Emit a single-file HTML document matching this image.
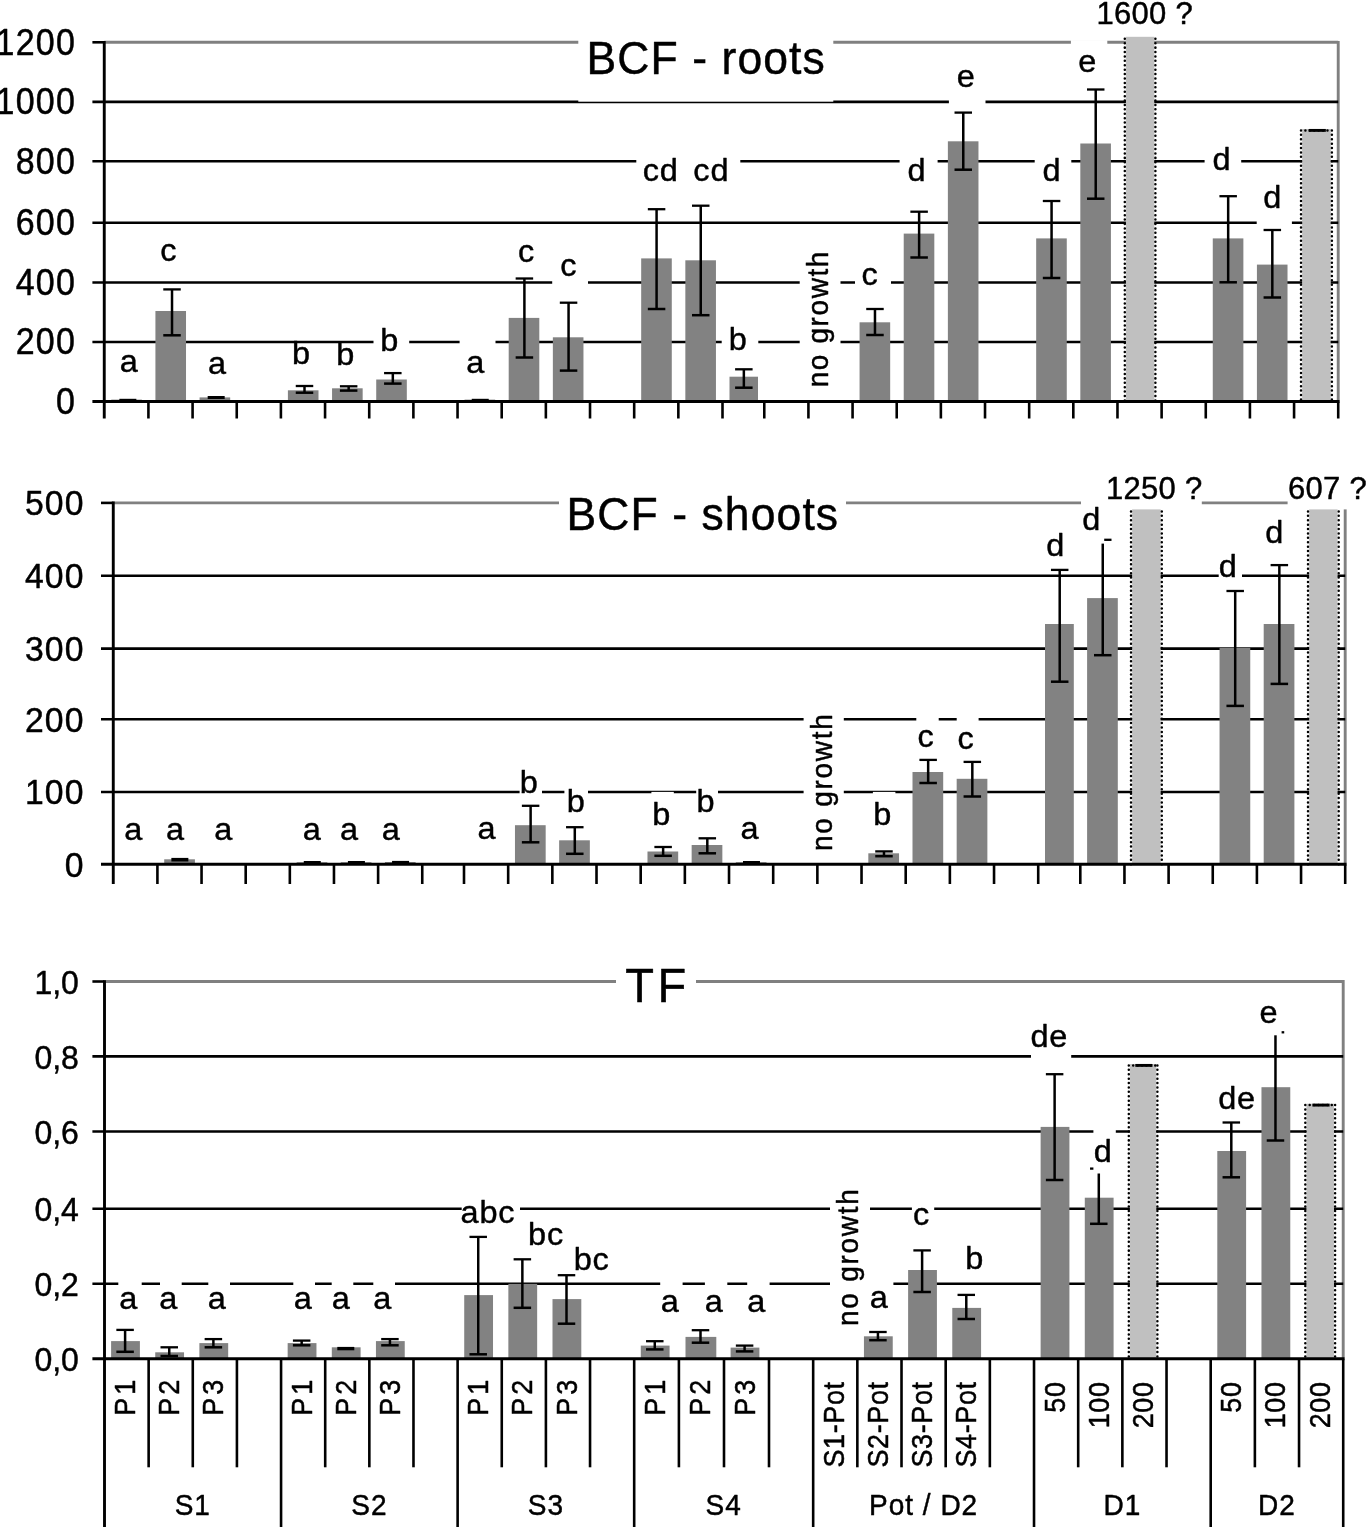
<!DOCTYPE html>
<html lang="en"><head><meta charset="utf-8"><title>BCF roots, BCF shoots, TF</title>
<style>html,body{margin:0;padding:0;background:#fff}svg{display:block;filter:blur(0.5px)}</style></head>
<body>
<svg width="1367" height="1528" viewBox="0 0 1367 1528" font-family="'Liberation Sans', Arial, Helvetica, sans-serif" fill="#000" stroke="#000" stroke-width="0.45" stroke-linejoin="round">
<rect x="0.00" y="0.00" width="1367.00" height="1528.00" fill="#fff" stroke="none"/>
<line x1="104.26" y1="42.30" x2="1338.22" y2="42.30" stroke="#808080" stroke-width="2.9" />
<line x1="1338.22" y1="40.90" x2="1338.22" y2="401.50" stroke="#808080" stroke-width="2.9" />
<line x1="92.40" y1="101.90" x2="1338.22" y2="101.90" stroke="#000" stroke-width="2.6" />
<line x1="92.40" y1="161.20" x2="1338.22" y2="161.20" stroke="#000" stroke-width="2.6" />
<line x1="92.40" y1="222.70" x2="1338.22" y2="222.70" stroke="#000" stroke-width="2.6" />
<line x1="92.40" y1="282.50" x2="1338.22" y2="282.50" stroke="#000" stroke-width="2.6" />
<line x1="92.40" y1="342.00" x2="1338.22" y2="342.00" stroke="#000" stroke-width="2.6" />
<line x1="92.40" y1="42.30" x2="104.26" y2="42.30" stroke="#000" stroke-width="2.6" />
<rect x="111.26" y="399.60" width="30.60" height="1.90" fill="#828282" stroke="none"/>
<rect x="155.42" y="311.00" width="30.60" height="90.50" fill="#828282" stroke="none"/>
<rect x="199.58" y="397.40" width="30.60" height="4.10" fill="#828282" stroke="none"/>
<rect x="287.90" y="390.30" width="30.60" height="11.20" fill="#828282" stroke="none"/>
<rect x="332.06" y="388.30" width="30.60" height="13.20" fill="#828282" stroke="none"/>
<rect x="376.22" y="379.50" width="30.60" height="22.00" fill="#828282" stroke="none"/>
<rect x="464.54" y="399.60" width="30.60" height="1.90" fill="#828282" stroke="none"/>
<rect x="508.70" y="317.90" width="30.60" height="83.60" fill="#828282" stroke="none"/>
<rect x="552.86" y="337.30" width="30.60" height="64.20" fill="#828282" stroke="none"/>
<rect x="641.18" y="258.40" width="30.60" height="143.10" fill="#828282" stroke="none"/>
<rect x="685.34" y="260.30" width="30.60" height="141.20" fill="#828282" stroke="none"/>
<rect x="729.50" y="376.70" width="28.50" height="24.80" fill="#828282" stroke="none"/>
<rect x="859.57" y="322.30" width="30.60" height="79.20" fill="#828282" stroke="none"/>
<rect x="903.72" y="233.60" width="30.60" height="167.90" fill="#828282" stroke="none"/>
<rect x="947.87" y="141.30" width="30.60" height="260.20" fill="#828282" stroke="none"/>
<rect x="1036.17" y="238.40" width="30.60" height="163.10" fill="#828282" stroke="none"/>
<rect x="1080.32" y="143.50" width="30.60" height="258.00" fill="#828282" stroke="none"/>
<rect x="1212.77" y="238.40" width="30.60" height="163.10" fill="#828282" stroke="none"/>
<rect x="1256.92" y="264.60" width="30.60" height="136.90" fill="#828282" stroke="none"/>
<rect x="1125.90" y="36.80" width="28.40" height="364.70" fill="#c0c0c0" stroke="none"/>
<line x1="1124.80" y1="38.80" x2="1124.80" y2="401.50" stroke="#000" stroke-width="2.5" stroke-dasharray="0.01 4.4" stroke-linecap="round"/>
<line x1="1155.40" y1="38.80" x2="1155.40" y2="401.50" stroke="#000" stroke-width="2.5" stroke-dasharray="0.01 4.4" stroke-linecap="round"/>
<rect x="1302.10" y="129.00" width="28.70" height="272.50" fill="#c0c0c0" stroke="none"/>
<line x1="1301.00" y1="130.40" x2="1301.00" y2="401.50" stroke="#000" stroke-width="2.5" stroke-dasharray="0.01 4.4" stroke-linecap="round"/>
<line x1="1331.90" y1="130.40" x2="1331.90" y2="401.50" stroke="#000" stroke-width="2.5" stroke-dasharray="0.01 4.4" stroke-linecap="round"/>
<line x1="1305.40" y1="130.40" x2="1329.90" y2="130.40" stroke="#000" stroke-width="2.5" stroke-dasharray="0.01 4.4" stroke-linecap="round"/>
<line x1="1308.65" y1="130.40" x2="1325.85" y2="130.40" stroke="#000" stroke-width="2.9" />
<line x1="92.40" y1="401.50" x2="1339.52" y2="401.50" stroke="#000" stroke-width="2.9" />
<line x1="104.26" y1="41.00" x2="104.26" y2="418.50" stroke="#000" stroke-width="2.9" />
<line x1="148.42" y1="401.50" x2="148.42" y2="418.50" stroke="#000" stroke-width="2.6" />
<line x1="192.58" y1="401.50" x2="192.58" y2="418.50" stroke="#000" stroke-width="2.6" />
<line x1="236.74" y1="401.50" x2="236.74" y2="418.50" stroke="#000" stroke-width="2.6" />
<line x1="280.90" y1="401.50" x2="280.90" y2="418.50" stroke="#000" stroke-width="2.6" />
<line x1="325.06" y1="401.50" x2="325.06" y2="418.50" stroke="#000" stroke-width="2.6" />
<line x1="369.22" y1="401.50" x2="369.22" y2="418.50" stroke="#000" stroke-width="2.6" />
<line x1="413.38" y1="401.50" x2="413.38" y2="418.50" stroke="#000" stroke-width="2.6" />
<line x1="457.54" y1="401.50" x2="457.54" y2="418.50" stroke="#000" stroke-width="2.6" />
<line x1="501.70" y1="401.50" x2="501.70" y2="418.50" stroke="#000" stroke-width="2.6" />
<line x1="545.86" y1="401.50" x2="545.86" y2="418.50" stroke="#000" stroke-width="2.6" />
<line x1="590.02" y1="401.50" x2="590.02" y2="418.50" stroke="#000" stroke-width="2.6" />
<line x1="634.18" y1="401.50" x2="634.18" y2="418.50" stroke="#000" stroke-width="2.6" />
<line x1="678.34" y1="401.50" x2="678.34" y2="418.50" stroke="#000" stroke-width="2.6" />
<line x1="722.50" y1="401.50" x2="722.50" y2="418.50" stroke="#000" stroke-width="2.6" />
<line x1="764.27" y1="401.50" x2="764.27" y2="418.50" stroke="#000" stroke-width="2.6" />
<line x1="808.42" y1="401.50" x2="808.42" y2="418.50" stroke="#000" stroke-width="2.6" />
<line x1="852.57" y1="401.50" x2="852.57" y2="418.50" stroke="#000" stroke-width="2.6" />
<line x1="896.72" y1="401.50" x2="896.72" y2="418.50" stroke="#000" stroke-width="2.6" />
<line x1="940.87" y1="401.50" x2="940.87" y2="418.50" stroke="#000" stroke-width="2.6" />
<line x1="985.02" y1="401.50" x2="985.02" y2="418.50" stroke="#000" stroke-width="2.6" />
<line x1="1029.17" y1="401.50" x2="1029.17" y2="418.50" stroke="#000" stroke-width="2.6" />
<line x1="1073.32" y1="401.50" x2="1073.32" y2="418.50" stroke="#000" stroke-width="2.6" />
<line x1="1117.47" y1="401.50" x2="1117.47" y2="418.50" stroke="#000" stroke-width="2.6" />
<line x1="1161.62" y1="401.50" x2="1161.62" y2="418.50" stroke="#000" stroke-width="2.6" />
<line x1="1205.77" y1="401.50" x2="1205.77" y2="418.50" stroke="#000" stroke-width="2.6" />
<line x1="1249.92" y1="401.50" x2="1249.92" y2="418.50" stroke="#000" stroke-width="2.6" />
<line x1="1294.07" y1="401.50" x2="1294.07" y2="418.50" stroke="#000" stroke-width="2.6" />
<line x1="1338.22" y1="401.50" x2="1338.22" y2="418.50" stroke="#000" stroke-width="2.6" />
<line x1="119.36" y1="399.90" x2="136.36" y2="399.90" stroke="#000" stroke-width="2.2" />
<line x1="172.02" y1="289.40" x2="172.02" y2="335.30" stroke="#000" stroke-width="2.5" />
<line x1="163.27" y1="289.40" x2="180.77" y2="289.40" stroke="#000" stroke-width="2.3" />
<line x1="163.27" y1="335.30" x2="180.77" y2="335.30" stroke="#000" stroke-width="2.5" />
<line x1="207.68" y1="397.50" x2="224.68" y2="397.50" stroke="#000" stroke-width="3.0" />
<line x1="304.50" y1="386.00" x2="304.50" y2="392.70" stroke="#000" stroke-width="2.5" />
<line x1="295.75" y1="386.00" x2="313.25" y2="386.00" stroke="#000" stroke-width="2.3" />
<line x1="295.75" y1="392.70" x2="313.25" y2="392.70" stroke="#000" stroke-width="2.5" />
<line x1="348.66" y1="386.30" x2="348.66" y2="390.60" stroke="#000" stroke-width="2.5" />
<line x1="339.91" y1="386.30" x2="357.41" y2="386.30" stroke="#000" stroke-width="2.3" />
<line x1="339.91" y1="390.60" x2="357.41" y2="390.60" stroke="#000" stroke-width="2.5" />
<line x1="392.82" y1="373.10" x2="392.82" y2="383.60" stroke="#000" stroke-width="2.5" />
<line x1="384.07" y1="373.10" x2="401.57" y2="373.10" stroke="#000" stroke-width="2.3" />
<line x1="384.07" y1="383.60" x2="401.57" y2="383.60" stroke="#000" stroke-width="2.5" />
<line x1="471.74" y1="399.90" x2="488.74" y2="399.90" stroke="#000" stroke-width="2.2" />
<line x1="524.40" y1="278.50" x2="524.40" y2="357.50" stroke="#000" stroke-width="2.5" />
<line x1="515.65" y1="278.50" x2="533.15" y2="278.50" stroke="#000" stroke-width="2.3" />
<line x1="515.65" y1="357.50" x2="533.15" y2="357.50" stroke="#000" stroke-width="2.5" />
<line x1="568.56" y1="302.70" x2="568.56" y2="370.60" stroke="#000" stroke-width="2.5" />
<line x1="559.81" y1="302.70" x2="577.31" y2="302.70" stroke="#000" stroke-width="2.3" />
<line x1="559.81" y1="370.60" x2="577.31" y2="370.60" stroke="#000" stroke-width="2.5" />
<line x1="656.58" y1="209.20" x2="656.58" y2="309.00" stroke="#000" stroke-width="2.5" />
<line x1="647.83" y1="209.20" x2="665.33" y2="209.20" stroke="#000" stroke-width="2.3" />
<line x1="647.83" y1="309.00" x2="665.33" y2="309.00" stroke="#000" stroke-width="2.5" />
<line x1="700.74" y1="205.70" x2="700.74" y2="315.20" stroke="#000" stroke-width="2.5" />
<line x1="691.99" y1="205.70" x2="709.49" y2="205.70" stroke="#000" stroke-width="2.3" />
<line x1="691.99" y1="315.20" x2="709.49" y2="315.20" stroke="#000" stroke-width="2.5" />
<line x1="743.85" y1="369.30" x2="743.85" y2="387.70" stroke="#000" stroke-width="2.5" />
<line x1="735.10" y1="369.30" x2="752.60" y2="369.30" stroke="#000" stroke-width="2.3" />
<line x1="735.10" y1="387.70" x2="752.60" y2="387.70" stroke="#000" stroke-width="2.5" />
<line x1="874.97" y1="309.00" x2="874.97" y2="335.00" stroke="#000" stroke-width="2.5" />
<line x1="866.22" y1="309.00" x2="883.72" y2="309.00" stroke="#000" stroke-width="2.3" />
<line x1="866.22" y1="335.00" x2="883.72" y2="335.00" stroke="#000" stroke-width="2.5" />
<line x1="919.12" y1="211.70" x2="919.12" y2="257.50" stroke="#000" stroke-width="2.5" />
<line x1="910.37" y1="211.70" x2="927.87" y2="211.70" stroke="#000" stroke-width="2.3" />
<line x1="910.37" y1="257.50" x2="927.87" y2="257.50" stroke="#000" stroke-width="2.5" />
<line x1="963.27" y1="112.60" x2="963.27" y2="169.70" stroke="#000" stroke-width="2.5" />
<line x1="954.52" y1="112.60" x2="972.02" y2="112.60" stroke="#000" stroke-width="2.3" />
<line x1="954.52" y1="169.70" x2="972.02" y2="169.70" stroke="#000" stroke-width="2.5" />
<line x1="1051.57" y1="201.00" x2="1051.57" y2="278.00" stroke="#000" stroke-width="2.5" />
<line x1="1042.82" y1="201.00" x2="1060.32" y2="201.00" stroke="#000" stroke-width="2.3" />
<line x1="1042.82" y1="278.00" x2="1060.32" y2="278.00" stroke="#000" stroke-width="2.5" />
<line x1="1095.72" y1="89.50" x2="1095.72" y2="198.70" stroke="#000" stroke-width="2.5" />
<line x1="1086.97" y1="89.50" x2="1104.47" y2="89.50" stroke="#000" stroke-width="2.3" />
<line x1="1086.97" y1="198.70" x2="1104.47" y2="198.70" stroke="#000" stroke-width="2.5" />
<line x1="1228.17" y1="196.20" x2="1228.17" y2="282.30" stroke="#000" stroke-width="2.5" />
<line x1="1219.42" y1="196.20" x2="1236.92" y2="196.20" stroke="#000" stroke-width="2.3" />
<line x1="1219.42" y1="282.30" x2="1236.92" y2="282.30" stroke="#000" stroke-width="2.5" />
<line x1="1272.32" y1="230.00" x2="1272.32" y2="297.50" stroke="#000" stroke-width="2.5" />
<line x1="1263.57" y1="230.00" x2="1281.07" y2="230.00" stroke="#000" stroke-width="2.3" />
<line x1="1263.57" y1="297.50" x2="1281.07" y2="297.50" stroke="#000" stroke-width="2.5" />
<rect x="578.30" y="28.00" width="255.00" height="73.70" fill="#fff" stroke="none"/>
<rect x="636.30" y="159.00" width="104.00" height="4.40" fill="#fff" stroke="none"/>
<rect x="552.20" y="280.30" width="35.80" height="4.40" fill="#fff" stroke="none"/>
<rect x="799.70" y="280.30" width="40.80" height="4.40" fill="#fff" stroke="none"/>
<rect x="855.00" y="280.30" width="36.00" height="4.40" fill="#fff" stroke="none"/>
<rect x="373.50" y="339.80" width="35.70" height="4.40" fill="#fff" stroke="none"/>
<rect x="459.60" y="339.80" width="35.90" height="4.40" fill="#fff" stroke="none"/>
<rect x="721.70" y="339.80" width="36.60" height="4.40" fill="#fff" stroke="none"/>
<rect x="799.70" y="339.80" width="40.80" height="4.40" fill="#fff" stroke="none"/>
<rect x="948.90" y="99.70" width="36.60" height="4.40" fill="#fff" stroke="none"/>
<rect x="899.60" y="159.00" width="38.00" height="4.40" fill="#fff" stroke="none"/>
<rect x="1034.70" y="159.00" width="36.60" height="4.40" fill="#fff" stroke="none"/>
<rect x="1204.60" y="159.00" width="36.60" height="4.40" fill="#fff" stroke="none"/>
<rect x="1256.70" y="220.50" width="35.20" height="4.40" fill="#fff" stroke="none"/>
<rect x="1070.90" y="40.10" width="36.40" height="4.40" fill="#fff" stroke="none"/>
<text transform="translate(76.00,54.60) scale(1.0,1.065)" font-size="34" text-anchor="end" letter-spacing="1.2">1200</text>
<text transform="translate(76.00,114.20) scale(1.0,1.065)" font-size="34" text-anchor="end" letter-spacing="1.2">1000</text>
<text transform="translate(76.00,173.50) scale(1.0,1.065)" font-size="34" text-anchor="end" letter-spacing="1.2">800</text>
<text transform="translate(76.00,235.00) scale(1.0,1.065)" font-size="34" text-anchor="end" letter-spacing="1.2">600</text>
<text transform="translate(76.00,294.80) scale(1.0,1.065)" font-size="34" text-anchor="end" letter-spacing="1.2">400</text>
<text transform="translate(76.00,354.30) scale(1.0,1.065)" font-size="34" text-anchor="end" letter-spacing="1.2">200</text>
<text transform="translate(76.00,413.80) scale(1.0,1.065)" font-size="34" text-anchor="end" letter-spacing="1.2">0</text>
<text transform="translate(128.90,371.70) scale(1.0,0.98)" font-size="32.5" text-anchor="middle">a</text>
<text transform="translate(168.40,261.30) scale(1.0,0.98)" font-size="32.5" text-anchor="middle">c</text>
<text transform="translate(217.00,373.70) scale(1.0,0.98)" font-size="32.5" text-anchor="middle">a</text>
<text transform="translate(301.00,363.70) scale(1.0,0.98)" font-size="32.5" text-anchor="middle">b</text>
<text transform="translate(345.40,364.90) scale(1.0,0.98)" font-size="32.5" text-anchor="middle">b</text>
<text transform="translate(389.30,351.10) scale(1.0,0.98)" font-size="32.5" text-anchor="middle">b</text>
<text transform="translate(475.20,373.20) scale(1.0,0.98)" font-size="32.5" text-anchor="middle">a</text>
<text transform="translate(526.20,261.50) scale(1.0,0.98)" font-size="32.5" text-anchor="middle">c</text>
<text transform="translate(568.40,276.20) scale(1.0,0.98)" font-size="32.5" text-anchor="middle">c</text>
<text transform="translate(660.70,181.40) scale(1.0,0.98)" font-size="32.5" text-anchor="middle" letter-spacing="0.8">cd</text>
<text transform="translate(711.30,181.40) scale(1.0,0.98)" font-size="32.5" text-anchor="middle" letter-spacing="0.8">cd</text>
<text transform="translate(737.80,349.70) scale(1.0,0.98)" font-size="32.5" text-anchor="middle">b</text>
<text transform="translate(869.70,284.70) scale(1.0,0.98)" font-size="32.5" text-anchor="middle">c</text>
<text transform="translate(916.50,181.20) scale(1.0,0.98)" font-size="32.5" text-anchor="middle">d</text>
<text transform="translate(965.70,87.00) scale(1.0,0.98)" font-size="32.5" text-anchor="middle">e</text>
<text transform="translate(1051.60,181.20) scale(1.0,0.98)" font-size="32.5" text-anchor="middle">d</text>
<text transform="translate(1087.20,71.50) scale(1.0,0.98)" font-size="32.5" text-anchor="middle">e</text>
<text transform="translate(1221.50,170.00) scale(1.0,0.98)" font-size="32.5" text-anchor="middle">d</text>
<text transform="translate(1272.20,208.00) scale(1.0,0.98)" font-size="32.5" text-anchor="middle">d</text>
<text transform="translate(586.40,74.00) scale(1.0,1.02)" font-size="44.5" letter-spacing="1.1">BCF - roots</text>
<text transform="translate(1096.50,23.60)" font-size="31" letter-spacing="0.3">1600 ?</text>
<text transform="translate(828.00,387.30) rotate(-90) scale(1.0,1.08)" font-size="28" letter-spacing="1.6">no growth</text>
<line x1="113.27" y1="502.90" x2="1345.20" y2="502.90" stroke="#808080" stroke-width="2.9" />
<line x1="1345.20" y1="501.50" x2="1345.20" y2="864.30" stroke="#808080" stroke-width="2.9" />
<line x1="101.00" y1="575.80" x2="1345.20" y2="575.80" stroke="#000" stroke-width="2.6" />
<line x1="101.00" y1="648.60" x2="1345.20" y2="648.60" stroke="#000" stroke-width="2.6" />
<line x1="101.00" y1="719.30" x2="1345.20" y2="719.30" stroke="#000" stroke-width="2.6" />
<line x1="101.00" y1="792.00" x2="1345.20" y2="792.00" stroke="#000" stroke-width="2.6" />
<line x1="101.00" y1="502.90" x2="113.27" y2="502.90" stroke="#000" stroke-width="2.6" />
<rect x="120.07" y="863.20" width="30.70" height="1.10" fill="#828282" stroke="none"/>
<rect x="164.21" y="859.30" width="30.70" height="5.00" fill="#828282" stroke="none"/>
<rect x="208.35" y="863.20" width="30.70" height="1.10" fill="#828282" stroke="none"/>
<rect x="296.63" y="862.20" width="30.70" height="2.10" fill="#828282" stroke="none"/>
<rect x="340.77" y="862.20" width="30.70" height="2.10" fill="#828282" stroke="none"/>
<rect x="384.91" y="862.00" width="30.70" height="2.30" fill="#828282" stroke="none"/>
<rect x="470.80" y="863.20" width="30.70" height="1.10" fill="#828282" stroke="none"/>
<rect x="514.97" y="825.20" width="30.70" height="39.10" fill="#828282" stroke="none"/>
<rect x="559.14" y="840.30" width="30.70" height="24.00" fill="#828282" stroke="none"/>
<rect x="647.48" y="851.50" width="30.70" height="12.80" fill="#828282" stroke="none"/>
<rect x="691.65" y="845.00" width="30.70" height="19.30" fill="#828282" stroke="none"/>
<rect x="735.82" y="862.20" width="30.70" height="2.10" fill="#828282" stroke="none"/>
<rect x="868.33" y="853.30" width="30.70" height="11.00" fill="#828282" stroke="none"/>
<rect x="912.50" y="772.00" width="30.70" height="92.30" fill="#828282" stroke="none"/>
<rect x="956.67" y="778.80" width="30.70" height="85.50" fill="#828282" stroke="none"/>
<rect x="1045.01" y="624.00" width="28.80" height="240.30" fill="#828282" stroke="none"/>
<rect x="1087.10" y="598.10" width="30.70" height="266.20" fill="#828282" stroke="none"/>
<rect x="1219.55" y="647.90" width="30.70" height="216.40" fill="#828282" stroke="none"/>
<rect x="1263.70" y="624.00" width="30.70" height="240.30" fill="#828282" stroke="none"/>
<rect x="1132.10" y="509.40" width="28.60" height="354.90" fill="#c0c0c0" stroke="none"/>
<line x1="1131.00" y1="511.40" x2="1131.00" y2="864.30" stroke="#000" stroke-width="2.5" stroke-dasharray="0.01 4.4" stroke-linecap="round"/>
<line x1="1161.80" y1="511.40" x2="1161.80" y2="864.30" stroke="#000" stroke-width="2.5" stroke-dasharray="0.01 4.4" stroke-linecap="round"/>
<rect x="1309.10" y="509.40" width="28.50" height="354.90" fill="#c0c0c0" stroke="none"/>
<line x1="1308.00" y1="511.40" x2="1308.00" y2="864.30" stroke="#000" stroke-width="2.5" stroke-dasharray="0.01 4.4" stroke-linecap="round"/>
<line x1="1338.70" y1="511.40" x2="1338.70" y2="864.30" stroke="#000" stroke-width="2.5" stroke-dasharray="0.01 4.4" stroke-linecap="round"/>
<line x1="101.00" y1="864.30" x2="1346.50" y2="864.30" stroke="#000" stroke-width="2.9" />
<line x1="113.27" y1="501.60" x2="113.27" y2="884.00" stroke="#000" stroke-width="2.9" />
<line x1="157.41" y1="864.30" x2="157.41" y2="884.00" stroke="#000" stroke-width="2.6" />
<line x1="201.55" y1="864.30" x2="201.55" y2="884.00" stroke="#000" stroke-width="2.6" />
<line x1="245.69" y1="864.30" x2="245.69" y2="884.00" stroke="#000" stroke-width="2.6" />
<line x1="289.83" y1="864.30" x2="289.83" y2="884.00" stroke="#000" stroke-width="2.6" />
<line x1="333.97" y1="864.30" x2="333.97" y2="884.00" stroke="#000" stroke-width="2.6" />
<line x1="378.11" y1="864.30" x2="378.11" y2="884.00" stroke="#000" stroke-width="2.6" />
<line x1="422.25" y1="864.30" x2="422.25" y2="884.00" stroke="#000" stroke-width="2.6" />
<line x1="464.00" y1="864.30" x2="464.00" y2="884.00" stroke="#000" stroke-width="2.6" />
<line x1="508.17" y1="864.30" x2="508.17" y2="884.00" stroke="#000" stroke-width="2.6" />
<line x1="552.34" y1="864.30" x2="552.34" y2="884.00" stroke="#000" stroke-width="2.6" />
<line x1="596.51" y1="864.30" x2="596.51" y2="884.00" stroke="#000" stroke-width="2.6" />
<line x1="640.68" y1="864.30" x2="640.68" y2="884.00" stroke="#000" stroke-width="2.6" />
<line x1="684.85" y1="864.30" x2="684.85" y2="884.00" stroke="#000" stroke-width="2.6" />
<line x1="729.02" y1="864.30" x2="729.02" y2="884.00" stroke="#000" stroke-width="2.6" />
<line x1="773.19" y1="864.30" x2="773.19" y2="884.00" stroke="#000" stroke-width="2.6" />
<line x1="817.36" y1="864.30" x2="817.36" y2="884.00" stroke="#000" stroke-width="2.6" />
<line x1="861.53" y1="864.30" x2="861.53" y2="884.00" stroke="#000" stroke-width="2.6" />
<line x1="905.70" y1="864.30" x2="905.70" y2="884.00" stroke="#000" stroke-width="2.6" />
<line x1="949.87" y1="864.30" x2="949.87" y2="884.00" stroke="#000" stroke-width="2.6" />
<line x1="994.04" y1="864.30" x2="994.04" y2="884.00" stroke="#000" stroke-width="2.6" />
<line x1="1038.21" y1="864.30" x2="1038.21" y2="884.00" stroke="#000" stroke-width="2.6" />
<line x1="1080.30" y1="864.30" x2="1080.30" y2="884.00" stroke="#000" stroke-width="2.6" />
<line x1="1124.45" y1="864.30" x2="1124.45" y2="884.00" stroke="#000" stroke-width="2.6" />
<line x1="1168.60" y1="864.30" x2="1168.60" y2="884.00" stroke="#000" stroke-width="2.6" />
<line x1="1212.75" y1="864.30" x2="1212.75" y2="884.00" stroke="#000" stroke-width="2.6" />
<line x1="1256.90" y1="864.30" x2="1256.90" y2="884.00" stroke="#000" stroke-width="2.6" />
<line x1="1301.05" y1="864.30" x2="1301.05" y2="884.00" stroke="#000" stroke-width="2.6" />
<line x1="1345.20" y1="864.30" x2="1345.20" y2="884.00" stroke="#000" stroke-width="2.6" />
<line x1="171.36" y1="859.70" x2="188.36" y2="859.70" stroke="#000" stroke-width="3.6000000000000227" />
<line x1="303.78" y1="862.10" x2="320.78" y2="862.10" stroke="#000" stroke-width="2.2" />
<line x1="347.92" y1="862.10" x2="364.92" y2="862.10" stroke="#000" stroke-width="2.2" />
<line x1="392.06" y1="862.00" x2="409.06" y2="862.00" stroke="#000" stroke-width="2.2" />
<line x1="530.62" y1="805.80" x2="530.62" y2="842.30" stroke="#000" stroke-width="2.5" />
<line x1="521.87" y1="805.80" x2="539.37" y2="805.80" stroke="#000" stroke-width="2.3" />
<line x1="521.87" y1="842.30" x2="539.37" y2="842.30" stroke="#000" stroke-width="2.5" />
<line x1="574.79" y1="827.20" x2="574.79" y2="853.80" stroke="#000" stroke-width="2.5" />
<line x1="566.04" y1="827.20" x2="583.54" y2="827.20" stroke="#000" stroke-width="2.3" />
<line x1="566.04" y1="853.80" x2="583.54" y2="853.80" stroke="#000" stroke-width="2.5" />
<line x1="663.13" y1="847.00" x2="663.13" y2="855.80" stroke="#000" stroke-width="2.5" />
<line x1="654.38" y1="847.00" x2="671.88" y2="847.00" stroke="#000" stroke-width="2.3" />
<line x1="654.38" y1="855.80" x2="671.88" y2="855.80" stroke="#000" stroke-width="2.5" />
<line x1="707.30" y1="838.30" x2="707.30" y2="853.30" stroke="#000" stroke-width="2.5" />
<line x1="698.55" y1="838.30" x2="716.05" y2="838.30" stroke="#000" stroke-width="2.3" />
<line x1="698.55" y1="853.30" x2="716.05" y2="853.30" stroke="#000" stroke-width="2.5" />
<line x1="742.97" y1="862.10" x2="759.97" y2="862.10" stroke="#000" stroke-width="2.2" />
<line x1="883.98" y1="851.40" x2="883.98" y2="856.20" stroke="#000" stroke-width="2.5" />
<line x1="875.23" y1="851.40" x2="892.73" y2="851.40" stroke="#000" stroke-width="2.3" />
<line x1="875.23" y1="856.20" x2="892.73" y2="856.20" stroke="#000" stroke-width="2.5" />
<line x1="928.15" y1="759.90" x2="928.15" y2="783.00" stroke="#000" stroke-width="2.5" />
<line x1="919.40" y1="759.90" x2="936.90" y2="759.90" stroke="#000" stroke-width="2.3" />
<line x1="919.40" y1="783.00" x2="936.90" y2="783.00" stroke="#000" stroke-width="2.5" />
<line x1="972.32" y1="761.90" x2="972.32" y2="796.50" stroke="#000" stroke-width="2.5" />
<line x1="963.57" y1="761.90" x2="981.07" y2="761.90" stroke="#000" stroke-width="2.3" />
<line x1="963.57" y1="796.50" x2="981.07" y2="796.50" stroke="#000" stroke-width="2.5" />
<line x1="1059.71" y1="569.90" x2="1059.71" y2="681.70" stroke="#000" stroke-width="2.5" />
<line x1="1050.96" y1="569.90" x2="1068.46" y2="569.90" stroke="#000" stroke-width="2.3" />
<line x1="1050.96" y1="681.70" x2="1068.46" y2="681.70" stroke="#000" stroke-width="2.5" />
<line x1="1102.75" y1="539.80" x2="1102.75" y2="655.20" stroke="#000" stroke-width="2.5" />
<line x1="1094.00" y1="539.80" x2="1111.50" y2="539.80" stroke="#000" stroke-width="2.3" />
<line x1="1094.00" y1="655.20" x2="1111.50" y2="655.20" stroke="#000" stroke-width="2.5" />
<line x1="1235.20" y1="591.00" x2="1235.20" y2="705.90" stroke="#000" stroke-width="2.5" />
<line x1="1226.45" y1="591.00" x2="1243.95" y2="591.00" stroke="#000" stroke-width="2.3" />
<line x1="1226.45" y1="705.90" x2="1243.95" y2="705.90" stroke="#000" stroke-width="2.5" />
<line x1="1279.35" y1="565.10" x2="1279.35" y2="683.90" stroke="#000" stroke-width="2.5" />
<line x1="1270.60" y1="565.10" x2="1288.10" y2="565.10" stroke="#000" stroke-width="2.3" />
<line x1="1270.60" y1="683.90" x2="1288.10" y2="683.90" stroke="#000" stroke-width="2.5" />
<rect x="559.00" y="485.00" width="287.00" height="55.00" fill="#fff" stroke="none"/>
<rect x="519.60" y="789.80" width="22.40" height="4.40" fill="#fff" stroke="none"/>
<rect x="564.40" y="789.80" width="23.60" height="4.40" fill="#fff" stroke="none"/>
<rect x="696.20" y="789.80" width="21.80" height="4.40" fill="#fff" stroke="none"/>
<rect x="803.60" y="789.80" width="40.20" height="4.40" fill="#fff" stroke="none"/>
<rect x="651.40" y="791.90" width="22.40" height="2.60" fill="#fff" stroke="none"/>
<rect x="872.90" y="791.90" width="22.50" height="2.60" fill="#fff" stroke="none"/>
<rect x="803.60" y="717.10" width="40.20" height="4.40" fill="#fff" stroke="none"/>
<rect x="916.30" y="717.10" width="22.40" height="4.40" fill="#fff" stroke="none"/>
<rect x="956.70" y="717.10" width="21.90" height="4.40" fill="#fff" stroke="none"/>
<rect x="1082.20" y="500.70" width="119.60" height="4.40" fill="#fff" stroke="none"/>
<rect x="1287.60" y="500.70" width="79.40" height="4.40" fill="#fff" stroke="none"/>
<rect x="1340.50" y="470.00" width="26.50" height="39.40" fill="#fff" stroke="none"/>
<rect x="1218.70" y="573.60" width="23.30" height="4.40" fill="#fff" stroke="none"/>
<rect x="1081.00" y="500.00" width="23.20" height="43.60" fill="#fff" stroke="none"/>
<text transform="translate(84.70,515.20) scale(1.0,1.027)" font-size="33.7" text-anchor="end" letter-spacing="1.2">500</text>
<text transform="translate(84.70,588.10) scale(1.0,1.027)" font-size="33.7" text-anchor="end" letter-spacing="1.2">400</text>
<text transform="translate(84.70,660.90) scale(1.0,1.027)" font-size="33.7" text-anchor="end" letter-spacing="1.2">300</text>
<text transform="translate(84.70,731.60) scale(1.0,1.027)" font-size="33.7" text-anchor="end" letter-spacing="1.2">200</text>
<text transform="translate(84.70,804.30) scale(1.0,1.027)" font-size="33.7" text-anchor="end" letter-spacing="1.2">100</text>
<text transform="translate(84.70,876.60) scale(1.0,1.027)" font-size="33.7" text-anchor="end" letter-spacing="1.2">0</text>
<text transform="translate(133.30,839.70) scale(1.0,0.98)" font-size="32.5" text-anchor="middle">a</text>
<text transform="translate(175.00,839.70) scale(1.0,0.98)" font-size="32.5" text-anchor="middle">a</text>
<text transform="translate(223.30,839.70) scale(1.0,0.98)" font-size="32.5" text-anchor="middle">a</text>
<text transform="translate(311.70,839.70) scale(1.0,0.98)" font-size="32.5" text-anchor="middle">a</text>
<text transform="translate(349.00,839.70) scale(1.0,0.98)" font-size="32.5" text-anchor="middle">a</text>
<text transform="translate(390.70,839.70) scale(1.0,0.98)" font-size="32.5" text-anchor="middle">a</text>
<text transform="translate(486.60,839.30) scale(1.0,0.98)" font-size="32.5" text-anchor="middle">a</text>
<text transform="translate(528.90,792.50) scale(1.0,0.98)" font-size="32.5" text-anchor="middle">b</text>
<text transform="translate(575.70,811.90) scale(1.0,0.98)" font-size="32.5" text-anchor="middle">b</text>
<text transform="translate(661.40,824.90) scale(1.0,0.98)" font-size="32.5" text-anchor="middle">b</text>
<text transform="translate(705.50,811.90) scale(1.0,0.98)" font-size="32.5" text-anchor="middle">b</text>
<text transform="translate(749.50,839.30) scale(1.0,0.98)" font-size="32.5" text-anchor="middle">a</text>
<text transform="translate(882.30,824.90) scale(1.0,0.98)" font-size="32.5" text-anchor="middle">b</text>
<text transform="translate(925.70,746.90) scale(1.0,0.98)" font-size="32.5" text-anchor="middle">c</text>
<text transform="translate(965.50,748.90) scale(1.0,0.98)" font-size="32.5" text-anchor="middle">c</text>
<text transform="translate(1055.20,556.40) scale(1.0,0.98)" font-size="32.5" text-anchor="middle">d</text>
<text transform="translate(1091.40,530.20) scale(1.0,0.98)" font-size="32.5" text-anchor="middle">d</text>
<text transform="translate(1227.90,576.70) scale(1.0,0.98)" font-size="32.5" text-anchor="middle">d</text>
<text transform="translate(1274.30,543.40) scale(1.0,0.98)" font-size="32.5" text-anchor="middle">d</text>
<text transform="translate(566.40,530.00) scale(1.0,1.02)" font-size="44.5" letter-spacing="1.1">BCF - shoots</text>
<text transform="translate(1106.00,499.40)" font-size="31" letter-spacing="0.3">1250 ?</text>
<text transform="translate(1288.00,499.40)" font-size="31" letter-spacing="0.3">607 ?</text>
<text transform="translate(831.60,851.00) rotate(-90) scale(1.0,1.08)" font-size="28" letter-spacing="1.75">no growth</text>
<line x1="104.50" y1="981.50" x2="1343.21" y2="981.50" stroke="#808080" stroke-width="2.9" />
<line x1="1343.21" y1="980.10" x2="1343.21" y2="1358.80" stroke="#808080" stroke-width="2.9" />
<line x1="92.40" y1="1056.40" x2="1343.21" y2="1056.40" stroke="#000" stroke-width="2.6" />
<line x1="92.40" y1="1131.50" x2="1343.21" y2="1131.50" stroke="#000" stroke-width="2.6" />
<line x1="92.40" y1="1208.80" x2="1343.21" y2="1208.80" stroke="#000" stroke-width="2.6" />
<line x1="92.40" y1="1283.80" x2="1343.21" y2="1283.80" stroke="#000" stroke-width="2.6" />
<line x1="92.40" y1="981.50" x2="104.50" y2="981.50" stroke="#000" stroke-width="2.6" />
<rect x="111.10" y="1341.10" width="28.80" height="17.70" fill="#828282" stroke="none"/>
<rect x="155.24" y="1352.30" width="28.80" height="6.50" fill="#828282" stroke="none"/>
<rect x="199.38" y="1343.10" width="28.80" height="15.70" fill="#828282" stroke="none"/>
<rect x="287.66" y="1343.10" width="28.80" height="15.70" fill="#828282" stroke="none"/>
<rect x="331.80" y="1347.30" width="28.80" height="11.50" fill="#828282" stroke="none"/>
<rect x="375.94" y="1341.10" width="28.80" height="17.70" fill="#828282" stroke="none"/>
<rect x="464.22" y="1295.10" width="28.80" height="63.70" fill="#828282" stroke="none"/>
<rect x="508.36" y="1283.90" width="28.80" height="74.90" fill="#828282" stroke="none"/>
<rect x="552.50" y="1299.10" width="28.80" height="59.70" fill="#828282" stroke="none"/>
<rect x="640.78" y="1345.60" width="28.80" height="13.20" fill="#828282" stroke="none"/>
<rect x="685.50" y="1336.90" width="30.80" height="21.90" fill="#828282" stroke="none"/>
<rect x="730.60" y="1347.60" width="28.80" height="11.20" fill="#828282" stroke="none"/>
<rect x="863.94" y="1336.30" width="28.80" height="22.50" fill="#828282" stroke="none"/>
<rect x="908.11" y="1270.00" width="28.80" height="88.80" fill="#828282" stroke="none"/>
<rect x="952.28" y="1307.90" width="28.80" height="50.90" fill="#828282" stroke="none"/>
<rect x="1040.62" y="1126.90" width="28.80" height="231.90" fill="#828282" stroke="none"/>
<rect x="1084.79" y="1197.70" width="28.80" height="161.10" fill="#828282" stroke="none"/>
<rect x="1217.30" y="1151.00" width="28.80" height="207.80" fill="#828282" stroke="none"/>
<rect x="1261.47" y="1087.20" width="28.80" height="271.60" fill="#828282" stroke="none"/>
<rect x="1129.90" y="1064.00" width="26.40" height="294.80" fill="#c0c0c0" stroke="none"/>
<line x1="1128.80" y1="1065.40" x2="1128.80" y2="1358.80" stroke="#000" stroke-width="2.5" stroke-dasharray="0.01 4.4" stroke-linecap="round"/>
<line x1="1157.40" y1="1065.40" x2="1157.40" y2="1358.80" stroke="#000" stroke-width="2.5" stroke-dasharray="0.01 4.4" stroke-linecap="round"/>
<line x1="1133.20" y1="1065.40" x2="1155.40" y2="1065.40" stroke="#000" stroke-width="2.5" stroke-dasharray="0.01 4.4" stroke-linecap="round"/>
<line x1="1135.30" y1="1065.40" x2="1152.50" y2="1065.40" stroke="#000" stroke-width="2.9" />
<rect x="1306.40" y="1103.70" width="27.60" height="255.10" fill="#c0c0c0" stroke="none"/>
<line x1="1305.30" y1="1105.10" x2="1305.30" y2="1358.80" stroke="#000" stroke-width="2.5" stroke-dasharray="0.01 4.4" stroke-linecap="round"/>
<line x1="1335.10" y1="1105.10" x2="1335.10" y2="1358.80" stroke="#000" stroke-width="2.5" stroke-dasharray="0.01 4.4" stroke-linecap="round"/>
<line x1="1309.70" y1="1105.10" x2="1333.10" y2="1105.10" stroke="#000" stroke-width="2.5" stroke-dasharray="0.01 4.4" stroke-linecap="round"/>
<line x1="1312.40" y1="1105.10" x2="1329.60" y2="1105.10" stroke="#000" stroke-width="2.9" />
<line x1="92.40" y1="1358.80" x2="1344.51" y2="1358.80" stroke="#000" stroke-width="2.9" />
<line x1="104.50" y1="980.20" x2="104.50" y2="1527.00" stroke="#000" stroke-width="2.9" />
<line x1="125.10" y1="1329.90" x2="125.10" y2="1351.80" stroke="#000" stroke-width="2.5" />
<line x1="116.35" y1="1329.90" x2="133.85" y2="1329.90" stroke="#000" stroke-width="2.3" />
<line x1="116.35" y1="1351.80" x2="133.85" y2="1351.80" stroke="#000" stroke-width="2.5" />
<line x1="169.24" y1="1347.30" x2="169.24" y2="1356.00" stroke="#000" stroke-width="2.5" />
<line x1="160.49" y1="1347.30" x2="177.99" y2="1347.30" stroke="#000" stroke-width="2.3" />
<line x1="160.49" y1="1356.00" x2="177.99" y2="1356.00" stroke="#000" stroke-width="2.5" />
<line x1="213.38" y1="1339.10" x2="213.38" y2="1347.30" stroke="#000" stroke-width="2.5" />
<line x1="204.63" y1="1339.10" x2="222.13" y2="1339.10" stroke="#000" stroke-width="2.3" />
<line x1="204.63" y1="1347.30" x2="222.13" y2="1347.30" stroke="#000" stroke-width="2.5" />
<line x1="301.66" y1="1340.60" x2="301.66" y2="1345.30" stroke="#000" stroke-width="2.5" />
<line x1="292.91" y1="1340.60" x2="310.41" y2="1340.60" stroke="#000" stroke-width="2.3" />
<line x1="292.91" y1="1345.30" x2="310.41" y2="1345.30" stroke="#000" stroke-width="2.5" />
<line x1="337.30" y1="1348.60" x2="354.30" y2="1348.60" stroke="#000" stroke-width="3.3999999999998636" />
<line x1="389.94" y1="1339.10" x2="389.94" y2="1345.30" stroke="#000" stroke-width="2.5" />
<line x1="381.19" y1="1339.10" x2="398.69" y2="1339.10" stroke="#000" stroke-width="2.3" />
<line x1="381.19" y1="1345.30" x2="398.69" y2="1345.30" stroke="#000" stroke-width="2.5" />
<line x1="478.22" y1="1236.90" x2="478.22" y2="1354.30" stroke="#000" stroke-width="2.5" />
<line x1="469.47" y1="1236.90" x2="486.97" y2="1236.90" stroke="#000" stroke-width="2.3" />
<line x1="469.47" y1="1354.30" x2="486.97" y2="1354.30" stroke="#000" stroke-width="2.5" />
<line x1="522.36" y1="1259.30" x2="522.36" y2="1307.80" stroke="#000" stroke-width="2.5" />
<line x1="513.61" y1="1259.30" x2="531.11" y2="1259.30" stroke="#000" stroke-width="2.3" />
<line x1="513.61" y1="1307.80" x2="531.11" y2="1307.80" stroke="#000" stroke-width="2.5" />
<line x1="566.50" y1="1275.20" x2="566.50" y2="1323.70" stroke="#000" stroke-width="2.5" />
<line x1="557.75" y1="1275.20" x2="575.25" y2="1275.20" stroke="#000" stroke-width="2.3" />
<line x1="557.75" y1="1323.70" x2="575.25" y2="1323.70" stroke="#000" stroke-width="2.5" />
<line x1="654.78" y1="1341.20" x2="654.78" y2="1349.40" stroke="#000" stroke-width="2.5" />
<line x1="646.03" y1="1341.20" x2="663.53" y2="1341.20" stroke="#000" stroke-width="2.3" />
<line x1="646.03" y1="1349.40" x2="663.53" y2="1349.40" stroke="#000" stroke-width="2.5" />
<line x1="700.50" y1="1330.20" x2="700.50" y2="1342.70" stroke="#000" stroke-width="2.5" />
<line x1="691.75" y1="1330.20" x2="709.25" y2="1330.20" stroke="#000" stroke-width="2.3" />
<line x1="691.75" y1="1342.70" x2="709.25" y2="1342.70" stroke="#000" stroke-width="2.5" />
<line x1="744.60" y1="1345.60" x2="744.60" y2="1351.40" stroke="#000" stroke-width="2.5" />
<line x1="735.85" y1="1345.60" x2="753.35" y2="1345.60" stroke="#000" stroke-width="2.3" />
<line x1="735.85" y1="1351.40" x2="753.35" y2="1351.40" stroke="#000" stroke-width="2.5" />
<line x1="877.94" y1="1332.00" x2="877.94" y2="1340.20" stroke="#000" stroke-width="2.5" />
<line x1="869.19" y1="1332.00" x2="886.69" y2="1332.00" stroke="#000" stroke-width="2.3" />
<line x1="869.19" y1="1340.20" x2="886.69" y2="1340.20" stroke="#000" stroke-width="2.5" />
<line x1="922.11" y1="1250.40" x2="922.11" y2="1292.00" stroke="#000" stroke-width="2.5" />
<line x1="913.36" y1="1250.40" x2="930.86" y2="1250.40" stroke="#000" stroke-width="2.3" />
<line x1="913.36" y1="1292.00" x2="930.86" y2="1292.00" stroke="#000" stroke-width="2.5" />
<line x1="966.28" y1="1294.90" x2="966.28" y2="1319.00" stroke="#000" stroke-width="2.5" />
<line x1="957.53" y1="1294.90" x2="975.03" y2="1294.90" stroke="#000" stroke-width="2.3" />
<line x1="957.53" y1="1319.00" x2="975.03" y2="1319.00" stroke="#000" stroke-width="2.5" />
<line x1="1054.62" y1="1074.20" x2="1054.62" y2="1180.00" stroke="#000" stroke-width="2.5" />
<line x1="1045.87" y1="1074.20" x2="1063.37" y2="1074.20" stroke="#000" stroke-width="2.3" />
<line x1="1045.87" y1="1180.00" x2="1063.37" y2="1180.00" stroke="#000" stroke-width="2.5" />
<line x1="1098.79" y1="1168.60" x2="1098.79" y2="1223.80" stroke="#000" stroke-width="2.5" />
<line x1="1090.04" y1="1168.60" x2="1107.54" y2="1168.60" stroke="#000" stroke-width="2.3" />
<line x1="1090.04" y1="1223.80" x2="1107.54" y2="1223.80" stroke="#000" stroke-width="2.5" />
<line x1="1231.30" y1="1122.50" x2="1231.30" y2="1177.30" stroke="#000" stroke-width="2.5" />
<line x1="1222.55" y1="1122.50" x2="1240.05" y2="1122.50" stroke="#000" stroke-width="2.3" />
<line x1="1222.55" y1="1177.30" x2="1240.05" y2="1177.30" stroke="#000" stroke-width="2.5" />
<line x1="1275.47" y1="1032.30" x2="1275.47" y2="1140.50" stroke="#000" stroke-width="2.5" />
<line x1="1266.72" y1="1032.30" x2="1284.22" y2="1032.30" stroke="#000" stroke-width="2.3" />
<line x1="1266.72" y1="1140.50" x2="1284.22" y2="1140.50" stroke="#000" stroke-width="2.5" />
<rect x="616.00" y="955.00" width="80.00" height="57.00" fill="#fff" stroke="none"/>
<rect x="118.30" y="1281.60" width="23.40" height="4.40" fill="#fff" stroke="none"/>
<rect x="160.00" y="1281.60" width="21.70" height="4.40" fill="#fff" stroke="none"/>
<rect x="208.30" y="1281.60" width="21.70" height="4.40" fill="#fff" stroke="none"/>
<rect x="293.30" y="1281.60" width="21.70" height="4.40" fill="#fff" stroke="none"/>
<rect x="331.70" y="1281.60" width="21.60" height="4.40" fill="#fff" stroke="none"/>
<rect x="373.30" y="1281.60" width="21.70" height="4.40" fill="#fff" stroke="none"/>
<rect x="660.20" y="1281.60" width="22.40" height="4.40" fill="#fff" stroke="none"/>
<rect x="704.90" y="1281.60" width="22.40" height="4.40" fill="#fff" stroke="none"/>
<rect x="747.20" y="1281.60" width="22.40" height="4.40" fill="#fff" stroke="none"/>
<rect x="830.00" y="1281.60" width="63.40" height="4.40" fill="#fff" stroke="none"/>
<rect x="461.70" y="1206.60" width="58.30" height="4.40" fill="#fff" stroke="none"/>
<rect x="830.00" y="1206.60" width="40.00" height="4.40" fill="#fff" stroke="none"/>
<rect x="911.90" y="1206.60" width="22.30" height="4.40" fill="#fff" stroke="none"/>
<rect x="1031.00" y="1054.20" width="40.20" height="4.40" fill="#fff" stroke="none"/>
<rect x="1093.40" y="1128.00" width="22.40" height="45.50" fill="#fff" stroke="none"/>
<rect x="1259.00" y="1000.00" width="22.60" height="35.30" fill="#fff" stroke="none"/>
<text transform="translate(78.90,993.80) scale(1.0,1.02)" font-size="32" text-anchor="end">1,0</text>
<text transform="translate(78.90,1068.70) scale(1.0,1.02)" font-size="32" text-anchor="end">0,8</text>
<text transform="translate(78.90,1143.80) scale(1.0,1.02)" font-size="32" text-anchor="end">0,6</text>
<text transform="translate(78.90,1221.10) scale(1.0,1.02)" font-size="32" text-anchor="end">0,4</text>
<text transform="translate(78.90,1296.10) scale(1.0,1.02)" font-size="32" text-anchor="end">0,2</text>
<text transform="translate(78.90,1371.10) scale(1.0,1.02)" font-size="32" text-anchor="end">0,0</text>
<text transform="translate(128.30,1309.00) scale(1.0,0.98)" font-size="32.5" text-anchor="middle">a</text>
<text transform="translate(168.30,1309.00) scale(1.0,0.98)" font-size="32.5" text-anchor="middle">a</text>
<text transform="translate(216.70,1309.00) scale(1.0,0.98)" font-size="32.5" text-anchor="middle">a</text>
<text transform="translate(302.70,1309.00) scale(1.0,0.98)" font-size="32.5" text-anchor="middle">a</text>
<text transform="translate(340.70,1309.00) scale(1.0,0.98)" font-size="32.5" text-anchor="middle">a</text>
<text transform="translate(382.30,1309.00) scale(1.0,0.98)" font-size="32.5" text-anchor="middle">a</text>
<text transform="translate(488.00,1223.00) scale(1.0,0.98)" font-size="32.5" text-anchor="middle" letter-spacing="0.8">abc</text>
<text transform="translate(546.00,1244.70) scale(1.0,0.98)" font-size="32.5" text-anchor="middle" letter-spacing="0.8">bc</text>
<text transform="translate(591.70,1269.70) scale(1.0,0.98)" font-size="32.5" text-anchor="middle" letter-spacing="0.8">bc</text>
<text transform="translate(669.90,1311.60) scale(1.0,0.98)" font-size="32.5" text-anchor="middle">a</text>
<text transform="translate(713.90,1311.60) scale(1.0,0.98)" font-size="32.5" text-anchor="middle">a</text>
<text transform="translate(756.20,1311.60) scale(1.0,0.98)" font-size="32.5" text-anchor="middle">a</text>
<text transform="translate(878.80,1308.40) scale(1.0,0.98)" font-size="32.5" text-anchor="middle">a</text>
<text transform="translate(921.20,1224.90) scale(1.0,0.98)" font-size="32.5" text-anchor="middle">c</text>
<text transform="translate(974.40,1269.40) scale(1.0,0.98)" font-size="32.5" text-anchor="middle">b</text>
<text transform="translate(1049.30,1046.90) scale(1.0,0.98)" font-size="32.5" text-anchor="middle" letter-spacing="0.8">de</text>
<text transform="translate(1102.70,1161.80) scale(1.0,0.98)" font-size="32.5" text-anchor="middle">d</text>
<text transform="translate(1237.00,1109.20) scale(1.0,0.98)" font-size="32.5" text-anchor="middle" letter-spacing="0.8">de</text>
<text transform="translate(1268.50,1022.80) scale(1.0,0.98)" font-size="32.5" text-anchor="middle">e</text>
<text transform="translate(625.30,1001.70) scale(1.0,1.02)" font-size="47" letter-spacing="3.6">TF</text>
<text transform="translate(858.00,1326.00) rotate(-90) scale(1.0,1.08)" font-size="28" letter-spacing="1.75">no growth</text>
<line x1="148.64" y1="1358.80" x2="148.64" y2="1467.30" stroke="#000" stroke-width="2.6" />
<line x1="192.78" y1="1358.80" x2="192.78" y2="1467.30" stroke="#000" stroke-width="2.6" />
<line x1="236.92" y1="1358.80" x2="236.92" y2="1467.30" stroke="#000" stroke-width="2.6" />
<line x1="281.06" y1="1358.80" x2="281.06" y2="1527.00" stroke="#000" stroke-width="2.6" />
<line x1="325.20" y1="1358.80" x2="325.20" y2="1467.30" stroke="#000" stroke-width="2.6" />
<line x1="369.34" y1="1358.80" x2="369.34" y2="1467.30" stroke="#000" stroke-width="2.6" />
<line x1="413.48" y1="1358.80" x2="413.48" y2="1467.30" stroke="#000" stroke-width="2.6" />
<line x1="457.62" y1="1358.80" x2="457.62" y2="1527.00" stroke="#000" stroke-width="2.6" />
<line x1="501.76" y1="1358.80" x2="501.76" y2="1467.30" stroke="#000" stroke-width="2.6" />
<line x1="545.90" y1="1358.80" x2="545.90" y2="1467.30" stroke="#000" stroke-width="2.6" />
<line x1="590.04" y1="1358.80" x2="590.04" y2="1467.30" stroke="#000" stroke-width="2.6" />
<line x1="634.18" y1="1358.80" x2="634.18" y2="1527.00" stroke="#000" stroke-width="2.6" />
<line x1="678.90" y1="1358.80" x2="678.90" y2="1467.30" stroke="#000" stroke-width="2.6" />
<line x1="724.00" y1="1358.80" x2="724.00" y2="1467.30" stroke="#000" stroke-width="2.6" />
<line x1="769.00" y1="1358.80" x2="769.00" y2="1467.30" stroke="#000" stroke-width="2.6" />
<line x1="813.17" y1="1358.80" x2="813.17" y2="1527.00" stroke="#000" stroke-width="2.6" />
<line x1="857.34" y1="1358.80" x2="857.34" y2="1467.30" stroke="#000" stroke-width="2.6" />
<line x1="901.51" y1="1358.80" x2="901.51" y2="1467.30" stroke="#000" stroke-width="2.6" />
<line x1="945.68" y1="1358.80" x2="945.68" y2="1467.30" stroke="#000" stroke-width="2.6" />
<line x1="989.85" y1="1358.80" x2="989.85" y2="1467.30" stroke="#000" stroke-width="2.6" />
<line x1="1034.02" y1="1358.80" x2="1034.02" y2="1527.00" stroke="#000" stroke-width="2.6" />
<line x1="1078.19" y1="1358.80" x2="1078.19" y2="1467.30" stroke="#000" stroke-width="2.6" />
<line x1="1122.36" y1="1358.80" x2="1122.36" y2="1467.30" stroke="#000" stroke-width="2.6" />
<line x1="1166.53" y1="1358.80" x2="1166.53" y2="1467.30" stroke="#000" stroke-width="2.6" />
<line x1="1210.70" y1="1358.80" x2="1210.70" y2="1527.00" stroke="#000" stroke-width="2.6" />
<line x1="1254.87" y1="1358.80" x2="1254.87" y2="1467.30" stroke="#000" stroke-width="2.6" />
<line x1="1299.04" y1="1358.80" x2="1299.04" y2="1467.30" stroke="#000" stroke-width="2.6" />
<line x1="1343.21" y1="1358.80" x2="1343.21" y2="1527.00" stroke="#000" stroke-width="2.6" />
<text transform="translate(135.10,1376.80) rotate(-90) scale(1.0,1.1)" font-size="27" text-anchor="end" letter-spacing="2.9">P1</text>
<text transform="translate(179.24,1376.80) rotate(-90) scale(1.0,1.1)" font-size="27" text-anchor="end" letter-spacing="2.9">P2</text>
<text transform="translate(223.38,1376.80) rotate(-90) scale(1.0,1.1)" font-size="27" text-anchor="end" letter-spacing="2.9">P3</text>
<text transform="translate(311.66,1376.80) rotate(-90) scale(1.0,1.1)" font-size="27" text-anchor="end" letter-spacing="2.9">P1</text>
<text transform="translate(355.80,1376.80) rotate(-90) scale(1.0,1.1)" font-size="27" text-anchor="end" letter-spacing="2.9">P2</text>
<text transform="translate(399.94,1376.80) rotate(-90) scale(1.0,1.1)" font-size="27" text-anchor="end" letter-spacing="2.9">P3</text>
<text transform="translate(488.22,1376.80) rotate(-90) scale(1.0,1.1)" font-size="27" text-anchor="end" letter-spacing="2.9">P1</text>
<text transform="translate(532.36,1376.80) rotate(-90) scale(1.0,1.1)" font-size="27" text-anchor="end" letter-spacing="2.9">P2</text>
<text transform="translate(576.50,1376.80) rotate(-90) scale(1.0,1.1)" font-size="27" text-anchor="end" letter-spacing="2.9">P3</text>
<text transform="translate(664.78,1376.80) rotate(-90) scale(1.0,1.1)" font-size="27" text-anchor="end" letter-spacing="2.9">P1</text>
<text transform="translate(709.50,1376.80) rotate(-90) scale(1.0,1.1)" font-size="27" text-anchor="end" letter-spacing="2.9">P2</text>
<text transform="translate(754.60,1376.80) rotate(-90) scale(1.0,1.1)" font-size="27" text-anchor="end" letter-spacing="2.9">P3</text>
<text transform="translate(843.77,1381.40) rotate(-90) scale(1.0,1.1)" font-size="27" text-anchor="end" letter-spacing="0.6">S1-Pot</text>
<text transform="translate(887.94,1381.40) rotate(-90) scale(1.0,1.1)" font-size="27" text-anchor="end" letter-spacing="0.6">S2-Pot</text>
<text transform="translate(932.11,1381.40) rotate(-90) scale(1.0,1.1)" font-size="27" text-anchor="end" letter-spacing="0.6">S3-Pot</text>
<text transform="translate(976.28,1381.40) rotate(-90) scale(1.0,1.1)" font-size="27" text-anchor="end" letter-spacing="0.6">S4-Pot</text>
<text transform="translate(1064.62,1381.40) rotate(-90) scale(1.0,1.1)" font-size="27" text-anchor="end" letter-spacing="0.6">50</text>
<text transform="translate(1108.79,1381.40) rotate(-90) scale(1.0,1.1)" font-size="27" text-anchor="end" letter-spacing="0.6">100</text>
<text transform="translate(1152.96,1381.40) rotate(-90) scale(1.0,1.1)" font-size="27" text-anchor="end" letter-spacing="0.6">200</text>
<text transform="translate(1241.30,1381.40) rotate(-90) scale(1.0,1.1)" font-size="27" text-anchor="end" letter-spacing="0.6">50</text>
<text transform="translate(1285.47,1381.40) rotate(-90) scale(1.0,1.1)" font-size="27" text-anchor="end" letter-spacing="0.6">100</text>
<text transform="translate(1329.64,1381.40) rotate(-90) scale(1.0,1.1)" font-size="27" text-anchor="end" letter-spacing="0.6">200</text>
<text transform="translate(192.78,1515.20) scale(1.0,1.06)" font-size="28" text-anchor="middle" letter-spacing="1.0">S1</text>
<text transform="translate(369.34,1515.20) scale(1.0,1.06)" font-size="28" text-anchor="middle" letter-spacing="1.0">S2</text>
<text transform="translate(545.90,1515.20) scale(1.0,1.06)" font-size="28" text-anchor="middle" letter-spacing="1.0">S3</text>
<text transform="translate(723.67,1515.20) scale(1.0,1.06)" font-size="28" text-anchor="middle" letter-spacing="1.0">S4</text>
<text transform="translate(923.60,1515.20) scale(1.0,1.06)" font-size="28" text-anchor="middle" letter-spacing="1.0">Pot / D2</text>
<text transform="translate(1122.36,1515.20) scale(1.0,1.06)" font-size="28" text-anchor="middle" letter-spacing="1.0">D1</text>
<text transform="translate(1276.95,1515.20) scale(1.0,1.06)" font-size="28" text-anchor="middle" letter-spacing="1.0">D2</text>
</svg>
</body></html>
